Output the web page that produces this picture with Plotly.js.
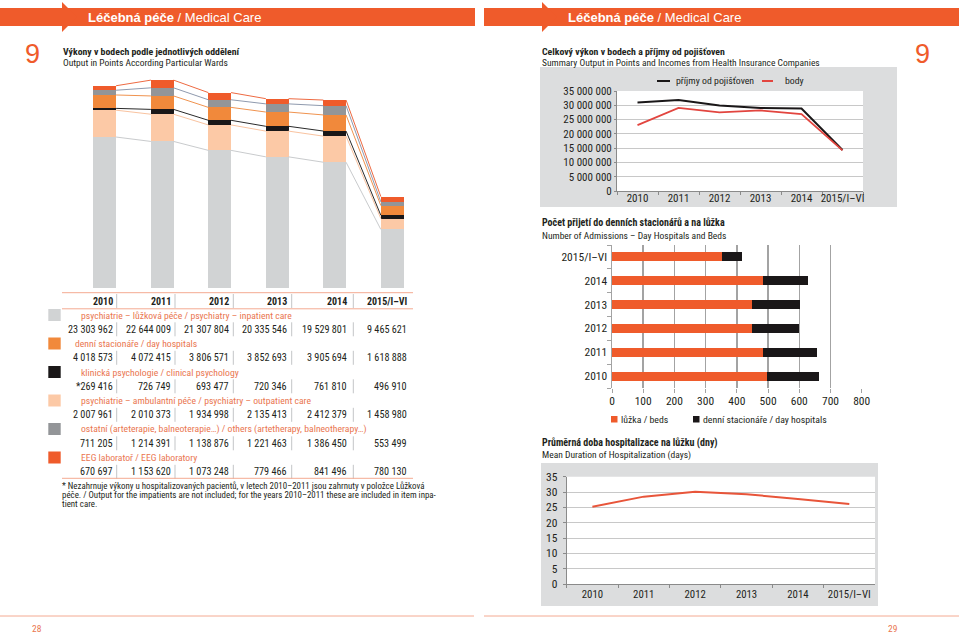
<!DOCTYPE html>
<html><head><meta charset="utf-8">
<script src="https://cdn.plot.ly/plotly-3.0.1.min.js"></script>
<style>html,body{margin:0;padding:0;background:#fff}#c{width:959px;height:635px}</style>
</head><body><div id="c"></div>
<script>
// ---------- DATA ----------
const years = ['2010','2011','2012','2013','2014','2015/I–VI'];
// Output in points by ward (table values)
const inpatient  = [23303962, 22644009, 21307804, 20335546, 19529801, 9465621];
const dayHosp    = [4018573, 4072415, 3806571, 3852693, 3905694, 1618888];
const clinPsych  = [269416, 726749, 693477, 720346, 761810, 496910];
const outpatient = [2007961, 2010373, 1934998, 2135413, 2412379, 1458980];
const others     = [711205, 1214391, 1138876, 1221463, 1386450, 553499];
const eeg        = [670697, 1153620, 1073248, 779466, 841496, 780130];
const clinPrefix = ['*','','','','',''];
const wardLabels = [
  'psychiatrie – lůžková péče / psychiatry – inpatient care',
  'denní stacionáře / day hospitals',
  'klinická psychologie / clinical psychology',
  'psychiatrie – ambulantní péče / psychiatry – outpatient care',
  'ostatní (arteterapie, balneoterapie…) / others (artetherapy, balneotherapy…)',
  'EEG laboratoř / EEG laboratory'
];
// Summary output vs incomes
const seriesBlack = [30981814, 31821557, 29954974, 29044927, 28837630, 14374028];
const seriesRed   = [23050000, 29100000, 27500000, 28200000, 26900000, 14200000];
const legendBlack = 'příjmy od pojišťoven';
const legendRed = 'body';
// Admissions
const admBeds = [496, 483, 450, 448, 485, 352];
const admDay  = [168, 173, 148, 154, 144, 65];
// Mean duration of hospitalization
const meanDays = [25.2, 28.5, 30.1, 29.3, 27.7, 26.1];

// ---------- HELPERS ----------
const W = 959, H = 635;
const px = x => x / W, py = y => 1 - y / H;
const NARROW = "'Liberation Sans Narrow','Arial Narrow','Roboto Condensed','DejaVu Sans Condensed',sans-serif";
const SANS = "'Liberation Sans',Arial,Helvetica,sans-serif";
const ORANGE = '#ef5b2b', SALMON = '#ea7650', TXT = '#231f20';
const C_LGRAY = '#d1d3d4', C_PEACH = '#fcc9a6', C_BLACK = '#1a1718', C_ORNG = '#f1893b', C_GRAY = '#939598';
const fmt = n => String(n).replace(/\B(?=(\d{3})+(?!\d))/g, ' ');

const ann = [], shp = [];
function T(x, y, text, o = {}) {
  ann.push({xref:'paper', yref:'paper', x:px(x), y:py(y), text, showarrow:false,
    xanchor:o.anchor || 'left', yanchor:'middle', borderpad:0,
    font:{family:o.family || NARROW, size:o.size || 10, color:o.color || TXT}});
}
function R(x0, y0, x1, y1, fill, layer = 'below') {
  shp.push({type:'rect', xref:'paper', yref:'paper', x0:px(x0), x1:px(x1), y0:py(y0), y1:py(y1),
    fillcolor:fill, line:{width:0}, layer});
}
function L(x0, y0, x1, y1, color, width = 1, layer = 'above') {
  shp.push({type:'line', xref:'paper', yref:'paper', x0:px(x0), x1:px(x1), y0:py(y0), y1:py(y1),
    line:{color, width}, layer});
}
function PATH(pts, fill) {
  const d = 'M ' + pts.map(p => px(p[0]) + ',' + py(p[1])).join(' L ') + ' Z';
  shp.push({type:'path', xref:'paper', yref:'paper', path:d, fillcolor:fill, line:{width:0}, layer:'above'});
}

// ---------- PAGE DECORATION ----------
R(0, 8, 475, 26, ORANGE, 'above');
PATH([[62,2],[77,17],[62,32]], ORANGE);
R(484, 8, 959, 26, ORANGE, 'above');
PATH([[542,2],[557,17],[542,32]], ORANGE);
T(87, 17.5, '<b>Léčebná péče</b> / Medical Care', {family:SANS, size:13, color:'#fff'});
T(567, 17.5, '<b>Léčebná péče</b> / Medical Care', {family:SANS, size:13, color:'#fff'});
T(32, 54, '9', {family:SANS, size:27, color:ORANGE, anchor:'center'});
T(922, 54, '9', {family:SANS, size:27, color:ORANGE, anchor:'center'});
T(62, 51, '<b>Výkony v bodech podle jednotlivých oddělení</b>', {size:9.8});
T(62, 62, 'Output in Points According Particular Wards', {size:9.5});
T(541, 51, '<b>Celkový výkon v bodech a příjmy od pojišťoven</b>', {size:9.8});
T(541, 62, 'Summary Output in Points and Incomes from Health Insurance Companies', {size:9.5});
T(541, 223, '<b>Počet přijetí do denních stacionářů a na lůžka</b>', {size:10});
T(541, 235, 'Number of Admissions – Day Hospitals and Beds', {size:9.5});
T(541, 443, '<b>Průměrná doba hospitalizace na lůžku (dny)</b>', {size:10});
T(541, 454.5, 'Mean Duration of Hospitalization (days)', {size:9.5});
L(0, 616, 474, 616, '#f4aa92', 1);
L(484, 616, 959, 616, '#f4aa92', 1);
T(37, 628.5, '28', {size:9.5, color:SALMON, anchor:'center'});
T(893, 628.5, '29', {size:9.5, color:SALMON, anchor:'center'});

// chart backgrounds
R(540, 67, 897, 207, '#dcddde');
R(617, 91, 863, 191, '#ffffff');
R(541, 463, 878, 606, '#dcddde');
R(566.7, 476.7, 875, 584, '#ffffff');

// chart 1 legend
L(657, 81, 670, 81, C_BLACK, 2);
T(675, 80.5, legendBlack, {size:9.8});
L(762, 81, 773, 81, '#e2453f', 2);
T(784, 80.5, legendRed, {size:9.8});
// chart 2 legend
R(611, 416, 617.5, 422.5, ORANGE, 'above');
T(620, 419, 'lůžka / beds', {size:9.8});
R(693, 416, 699.5, 422.5, C_BLACK, 'above');
T(702, 419, 'denní stacionáře / day hospitals', {size:9.8});

// ---------- TABLE ----------
const colR = [113.5, 171.5, 230, 288, 348, 407.5];
const sepX = [116.7, 175, 233.3, 291.7, 353.3];
L(62, 292.7, 413, 292.7, '#f4aa92', 1);
L(62, 308.8, 413, 308.8, '#f4aa92', 1);
years.forEach((yv, i) => T(colR[i], 301, '<b>' + yv + '</b>', {anchor:'right', size:10}));
sepX.forEach(x => L(x, 294, x, 308, '#c3c5c7', 1));
const tableRows = [inpatient, dayHosp, clinPsych, outpatient, others, eeg];
const swatch = [C_LGRAY, C_ORNG, C_BLACK, C_PEACH, C_GRAY, ORANGE];
tableRows.forEach((row, k) => {
  const yc = 315 + k * 28.5, yv = yc + 14.3;
  R(48.3, yc - 6, 60.7, yc + 6, swatch[k], 'above');
  T(k === 1 ? 74 : 79.5, yc, wardLabels[k], {color:SALMON, size:9.7});
  row.forEach((v, i) => T(colR[i], yv, (k === 2 ? clinPrefix[i] : '') + fmt(v), {anchor:'right', size:10.2}));
  sepX.forEach(x => L(x, yv - 7, x, yv + 7, '#c3c5c7', 1));
});
L(62, 478.3, 413, 478.3, '#f4aa92', 1);
T(61, 485.5, '* Nezahrnuje výkony u hospitalizovaných pacientů, v letech 2010–2011 jsou zahrnuty v položce Lůžková', {size:8.9});
T(61, 494.5, 'péče. / Output for the impatients are not included; for the years 2010–2011 these are included in item inpa-', {size:8.9});
T(61, 503.5, 'tient care.', {size:8.9});

// ---------- TRACES ----------
const idx = years.map((_, i) => i);
const BW = 0.395;
const stackOrder = [
  {v:inpatient, c:C_LGRAY, lc:'#c9cbcd'},
  {v:dayHosp, c:C_PEACH, lc:'#f9c3a0'},
  {v:clinPsych, c:C_BLACK, lc:'#2a2a2a'},
  {v:outpatient, c:C_ORNG, lc:'#f0934f'},
  {v:others, c:C_GRAY, lc:'#8f9aae'},
  {v:eeg, c:ORANGE, lc:'#ee6a42'}
];
const traces = [];
const cum = years.map(() => 0);
stackOrder.forEach(s => {
  traces.push({type:'bar', x:idx, y:s.v, width:BW, marker:{color:s.c, line:{width:0}},
    xaxis:'x', yaxis:'y', hoverinfo:'skip', showlegend:false});
});
stackOrder.forEach(s => {
  s.v.forEach((v, i) => cum[i] += v);
  const lx = [], ly = [];
  for (let i = 0; i < years.length - 1; i++) {
    lx.push(i + BW / 2, i + 1 - BW / 2, null);
    ly.push(cum[i], cum[i + 1], null);
  }
  traces.push({type:'scatter', mode:'lines', x:lx, y:ly, line:{color:s.lc, width:1},
    xaxis:'x', yaxis:'y', hoverinfo:'skip', showlegend:false, connectgaps:false});
});
traces.push({type:'scatter', mode:'lines', x:years, y:seriesBlack, line:{color:C_BLACK, width:2},
  xaxis:'x2', yaxis:'y2', showlegend:false});
traces.push({type:'scatter', mode:'lines', x:years, y:seriesRed, line:{color:'#e2453f', width:1.8},
  xaxis:'x2', yaxis:'y2', showlegend:false});
traces.push({type:'bar', orientation:'h', y:years, x:admBeds, width:0.38, marker:{color:ORANGE, line:{width:0}},
  xaxis:'x3', yaxis:'y3', showlegend:false});
traces.push({type:'bar', orientation:'h', y:years, x:admDay, width:0.38, marker:{color:C_BLACK, line:{width:0}},
  xaxis:'x3', yaxis:'y3', showlegend:false});
traces.push({type:'scatter', mode:'lines', x:years, y:meanDays, line:{color:'#e8553a', width:2},
  xaxis:'x4', yaxis:'y4', showlegend:false});

// ---------- LAYOUT ----------
const tf = s => ({family:NARROW, size:s, color:TXT});
const layout = {
  width:W, height:H, margin:{l:0, r:0, t:0, b:0},
  paper_bgcolor:'#fff', plot_bgcolor:'rgba(0,0,0,0)',
  barmode:'stack', separators:', ', showlegend:false,
  xaxis:{domain:[px(61.6), px(420.95)], range:[-0.75, 5.5], visible:false, fixedrange:true},
  yaxis:{domain:[py(288), py(75)], range:[700000, 32590000], visible:false},
  xaxis2:{domain:[px(617), px(863)], type:'category', anchor:'y2', range:[-0.5, 5.5], showgrid:false, showline:true,
    linecolor:'#8a8a8a', ticks:'outside', tickson:'boundaries', ticklen:3, tickcolor:'#8a8a8a',
    tickfont:tf(11), tickangle:0, ticklabelstandoff:-3},
  yaxis2:{domain:[py(191), py(91)], anchor:'x2', range:[0, 35000000], dtick:5000000, tickformat:',d',
    showgrid:true, gridcolor:'#c8c8c8', showline:true, linecolor:'#8a8a8a', ticks:'outside', ticklen:2,
    tickcolor:'#8a8a8a', tickfont:tf(11), zeroline:false},
  xaxis3:{domain:[px(612), px(861.7)], anchor:'y3', range:[0, 800], dtick:100, showgrid:true,
    gridcolor:'#a3a3a3', gridwidth:1.5, ticks:'outside', ticklen:4, tickcolor:'#a3a3a3',
    showline:false, zeroline:false, tickfont:tf(11.5), ticklabelstandoff:-2},
  yaxis3:{domain:[py(388), py(245)], anchor:'x3', type:'category', showgrid:false, showline:true,
    linecolor:'#a3a3a3', linewidth:1.5, ticks:'outside', tickson:'boundaries', ticklen:4, tickcolor:'#a3a3a3',
    tickfont:tf(11.5), ticklabelstandoff:1},
  xaxis4:{domain:[px(566.7), px(875)], anchor:'y4', type:'category', range:[-0.5, 5.5], showgrid:false, showline:true,
    linecolor:'#8a8a8a', ticks:'outside', tickson:'boundaries', ticklen:3, tickcolor:'#8a8a8a',
    tickfont:tf(10.8), tickangle:0},
  yaxis4:{domain:[py(584), py(476.7)], anchor:'x4', range:[0, 35], dtick:5, showgrid:true,
    gridcolor:'#c8c8c8', showline:true, linecolor:'#8a8a8a', ticks:'outside', ticklen:3,
    tickcolor:'#8a8a8a', tickfont:tf(11.5), zeroline:false, ticklabelstandoff:3},
  annotations:ann, shapes:shp
};
Plotly.newPlot('c', traces, layout, {staticPlot:true, displayModeBar:false});
</script></body></html>
